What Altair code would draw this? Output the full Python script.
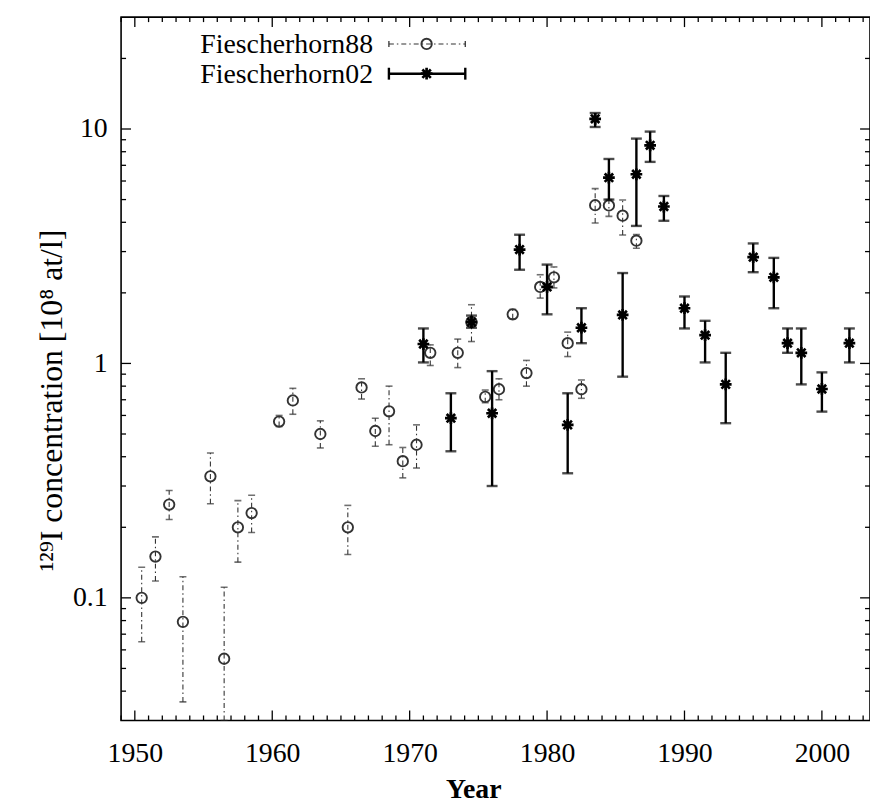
import altair as alt
import pandas as pd

# ---- Fiescherhorn88 (open circles, dash-dot error bars)
f88_year = [1950.5, 1951.5, 1952.5, 1953.5, 1955.5, 1956.5, 1957.5, 1958.5, 1960.5, 1961.5,
            1963.5, 1965.5, 1966.5, 1967.5, 1968.5, 1969.5, 1970.5, 1971.5, 1973.5, 1974.5,
            1975.5, 1976.5, 1977.5, 1978.5, 1979.5, 1980.5, 1981.5, 1982.5, 1983.5, 1984.5,
            1985.5, 1986.5]
f88_val = [0.1, 0.15, 0.25, 0.079, 0.33, 0.055, 0.2, 0.23, 0.565, 0.695,
           0.5, 0.2, 0.79, 0.515, 0.625, 0.383, 0.45, 1.11, 1.11, 1.5,
           0.72, 0.776, 1.62, 0.91, 2.12, 2.33, 1.22, 0.776, 4.73, 4.72,
           4.27, 3.34]
f88_lo = [0.065, 0.118, 0.216, 0.036, 0.252, 0.03, 0.142, 0.19, 0.538, 0.607,
          0.436, 0.153, 0.705, 0.443, 0.45, 0.325, 0.358, 0.98, 0.96, 1.24,
          0.68, 0.70, 1.55, 0.80, 1.9, 2.1, 1.07, 0.71, 3.97, 4.24,
          3.53, 3.1]
f88_hi = [0.135, 0.182, 0.287, 0.123, 0.415, 0.111, 0.26, 0.274, 0.60, 0.783,
          0.569, 0.248, 0.86, 0.584, 0.80, 0.438, 0.547, 1.2, 1.27, 1.78,
          0.77, 0.86, 1.7, 1.03, 2.39, 2.58, 1.36, 0.85, 5.57, 5.0,
          4.98, 3.55]

# ---- Fiescherhorn02 (asterisks, solid error bars)
f02_year = [1971.0, 1973.0, 1974.5, 1976.0, 1978.0, 1980.0, 1981.5, 1982.5, 1983.5, 1984.5,
            1985.5, 1986.5, 1987.5, 1988.5, 1990.0, 1991.5, 1993.0, 1995.0, 1996.5, 1997.5,
            1998.5, 2000.0, 2002.0]
f02_val = [1.21, 0.584, 1.5, 0.613, 3.06, 2.12, 0.547, 1.42, 11.05, 6.2,
           1.61, 6.41, 8.52, 4.67, 1.72, 1.32, 0.814, 2.84, 2.33, 1.22,
           1.11, 0.778, 1.22]
f02_lo = [1.01, 0.422, 1.42, 0.30, 2.51, 1.62, 0.34, 1.22, 10.2, 5.0,
          0.878, 3.86, 7.24, 4.06, 1.41, 1.01, 0.556, 2.45, 1.72, 1.11,
          0.814, 0.623, 1.01]
f02_hi = [1.41, 0.746, 1.6, 0.927, 3.54, 2.64, 0.746, 1.72, 11.7, 7.45,
          2.43, 9.1, 9.75, 5.18, 1.93, 1.52, 1.11, 3.25, 2.82, 1.41,
          1.41, 0.916, 1.41]

# ---- axis ticks
x_major = [1950, 1960, 1970, 1980, 1990, 2000]
x_minor = [y for y in range(1949, 2004) if y % 10 != 0]
y_major = [0.1, 1, 10]
y_minor = [0.04, 0.05, 0.06, 0.07, 0.08, 0.09,
           0.2, 0.3, 0.4, 0.5, 0.6, 0.7, 0.8, 0.9,
           2, 3, 4, 5, 6, 7, 8, 9, 20]

legend_labels = ["Fiescherhorn88", "Fiescherhorn02"]

W, H = 755, 709
FONT = "Liberation Serif"
ASTER = "M-1,0L1,0M0,-1L0,1M-0.72,-0.72L0.72,0.72M-0.72,0.72L0.72,-0.72"

xs = alt.Scale(domain=[1949, 2003.5], nice=False, zero=False)
ys = alt.Scale(type="log", domain=[0.03, 30], nice=False)

x_axis = alt.Axis(
    values=x_major, format="d", title="Year", ticks=False, tickSize=0, domain=False,
    grid=False, labelPadding=19, labelFontSize=28, labelFont=FONT, labelColor="black",
    titleFont=FONT, titleFontSize=28, titleFontWeight="bold", titleColor="black",
    titleX=355, titleY=78, titleBaseline="alphabetic", titleAlign="center")
y_axis = alt.Axis(
    values=y_major, format="~g", title="¹²⁹I concentration [10⁸ at/l]", ticks=False,
    tickSize=0, domain=False, grid=False, labelPadding=14, labelFontSize=28,
    labelFont=FONT, labelColor="black", titleFont=FONT, titleFontSize=32,
    titleFontWeight="normal", titleColor="black", titleX=-70, titleY=386,
    titleAngle=270, titleAlign="center", titleBaseline="middle")

f88 = pd.DataFrame({"year": f88_year, "val": f88_val, "lo": f88_lo, "hi": f88_hi})
f02 = pd.DataFrame({"year": f02_year, "val": f02_val, "lo": f02_lo, "hi": f02_hi})
one = pd.DataFrame({"a": [0]})


def X(f):
    return alt.X(f, type="quantitative", scale=xs, axis=x_axis)


def Y(f):
    return alt.Y(f, type="quantitative", scale=ys, axis=y_axis)


xmaj = pd.DataFrame({"year": x_major})
xmin = pd.DataFrame({"year": x_minor})
ymaj = pd.DataFrame({"val": y_major})
ymin = pd.DataFrame({"val": y_minor})

tick_layers = []
for df, ln in [(xmaj, 10), (xmin, 5)]:
    tick_layers.append(alt.Chart(df).mark_rule(color="black", strokeWidth=1.3).encode(
        x=X("year"), y=alt.value(H), y2=alt.value(H - ln)))
    tick_layers.append(alt.Chart(df).mark_rule(color="black", strokeWidth=1.3).encode(
        x=X("year"), y=alt.value(0), y2=alt.value(ln)))
for df, ln in [(ymaj, 10), (ymin, 5)]:
    tick_layers.append(alt.Chart(df).mark_rule(color="black", strokeWidth=1.3).encode(
        y=Y("val"), x=alt.value(0), x2=alt.value(ln)))
    tick_layers.append(alt.Chart(df).mark_rule(color="black", strokeWidth=1.3).encode(
        y=Y("val"), x=alt.value(W), x2=alt.value(W - ln)))

GREY = "#333333"
f88_bar = alt.Chart(f88).mark_rule(color=GREY, strokeWidth=1.1, strokeDash=[5, 3, 1.5, 3], clip=True).encode(
    x=X("year"), y=Y("lo"), y2="hi")
f88_cap_lo = alt.Chart(f88).mark_tick(orient="horizontal", color=GREY, size=7, thickness=1.6, clip=True).encode(
    x=X("year"), y=Y("lo"))
f88_cap_hi = alt.Chart(f88).mark_tick(orient="horizontal", color=GREY, size=7, thickness=1.6, clip=True).encode(
    x=X("year"), y=Y("hi"))
f88_pt = alt.Chart(f88).mark_point(shape="circle", filled=False, size=110, strokeWidth=1.9, color=GREY, opacity=1).encode(
    x=X("year"), y=Y("val"))

f02_bar = alt.Chart(f02).mark_rule(color="black", strokeWidth=2.4, clip=True).encode(
    x=X("year"), y=Y("lo"), y2="hi")
f02_cap_lo = alt.Chart(f02).mark_tick(orient="horizontal", color="black", size=11, thickness=2.4).encode(
    x=X("year"), y=Y("lo"))
f02_cap_hi = alt.Chart(f02).mark_tick(orient="horizontal", color="black", size=11, thickness=2.4).encode(
    x=X("year"), y=Y("hi"))
f02_pt = alt.Chart(f02).mark_point(shape=ASTER, filled=False, size=140, strokeWidth=2.7, color="black", opacity=1).encode(
    x=X("year"), y=Y("val"))

# ---- legend (top-left inside the frame)
LX1, LX2, LXC = 270, 347, 308
R1, R2 = 27, 57
leg = [
    alt.Chart(one).mark_text(font=FONT, fontSize=28, align="right", baseline="middle", color="black").encode(
        x=alt.value(254), y=alt.value(R1 + 1), text=alt.value(legend_labels[0])),
    alt.Chart(one).mark_text(font=FONT, fontSize=28, align="right", baseline="middle", color="black").encode(
        x=alt.value(254), y=alt.value(R2 + 1), text=alt.value(legend_labels[1])),
    alt.Chart(one).mark_rule(color=GREY, strokeWidth=1.1, strokeDash=[5, 3, 1.5, 3]).encode(
        x=alt.value(LX1), x2=alt.value(LX2), y=alt.value(R1)),
    alt.Chart(one).mark_rule(color=GREY, strokeWidth=1.3).encode(
        x=alt.value(LX1), y=alt.value(R1 - 3), y2=alt.value(R1 + 3)),
    alt.Chart(one).mark_rule(color=GREY, strokeWidth=1.3).encode(
        x=alt.value(LX2), y=alt.value(R1 - 3), y2=alt.value(R1 + 3)),
    alt.Chart(one).mark_point(shape="circle", filled=False, size=110, strokeWidth=1.9, color=GREY, opacity=1).encode(
        x=alt.value(LXC), y=alt.value(R1)),
    alt.Chart(one).mark_rule(color="black", strokeWidth=2.4).encode(
        x=alt.value(LX1), x2=alt.value(LX2), y=alt.value(R2)),
    alt.Chart(one).mark_rule(color="black", strokeWidth=2.4).encode(
        x=alt.value(LX1), y=alt.value(R2 - 6), y2=alt.value(R2 + 6)),
    alt.Chart(one).mark_rule(color="black", strokeWidth=2.4).encode(
        x=alt.value(LX2), y=alt.value(R2 - 6), y2=alt.value(R2 + 6)),
    alt.Chart(one).mark_point(shape=ASTER, filled=False, size=140, strokeWidth=2.7, color="black", opacity=1).encode(
        x=alt.value(LXC), y=alt.value(R2)),
]

chart = alt.layer(
    *tick_layers,
    f88_bar, f88_cap_lo, f88_cap_hi, f88_pt,
    f02_bar, f02_cap_lo, f02_cap_hi, f02_pt,
    *leg,
).properties(
    width=W, height=H,
    autosize=alt.AutoSizeParams(type="none"),
    padding={"left": 114, "top": 6, "right": 0, "bottom": 80},
    background="white",
).configure_view(stroke="black", strokeWidth=1.6)

chart.save("out.html", embed_options={"renderer": "svg", "actions": False})
